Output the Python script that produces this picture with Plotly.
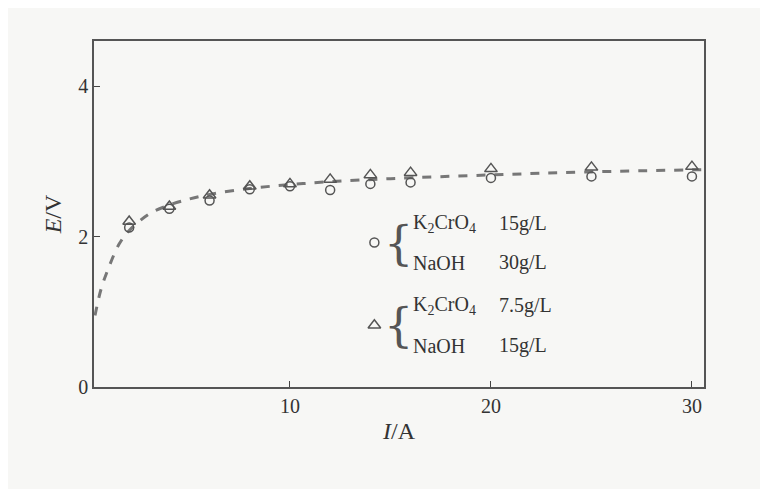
import plotly.graph_objects as go

# Measured points
current = [2, 4, 6, 8, 10, 12, 14, 16, 20, 25, 30]
e_circle = [2.12, 2.37, 2.48, 2.63, 2.67, 2.62, 2.70, 2.72, 2.78, 2.80, 2.80]
e_triangle = [2.20, 2.40, 2.55, 2.67, 2.70, 2.76, 2.82, 2.85, 2.90, 2.92, 2.93]

# Fitted dashed curve
curve_x = [0.3, 0.6, 1.0, 1.5, 2, 3, 4, 5, 6, 8, 10, 12, 15, 20, 25, 30.6]
curve_y = [0.95, 1.3, 1.6, 1.9, 2.08, 2.3, 2.42, 2.5, 2.56, 2.64, 2.69, 2.73, 2.77, 2.82, 2.86, 2.89]

ink = "#555555"
fig = go.Figure()

fig.add_trace(go.Scatter(x=curve_x, y=curve_y, mode="lines", line=dict(color="#777", width=3, dash="dash", shape="spline"), showlegend=False))
fig.add_trace(go.Scatter(x=current, y=e_circle, mode="markers", marker=dict(symbol="circle-open", size=9, color=ink, line=dict(width=1.5)), showlegend=False))
fig.add_trace(go.Scatter(x=current, y=e_triangle, mode="markers", marker=dict(symbol="triangle-up-open", size=11, color=ink, line=dict(width=1.5)), showlegend=False))

# Legend symbols and text
fig.add_trace(go.Scatter(x=[14.2], y=[1.92], mode="markers", marker=dict(symbol="circle-open", size=9, color=ink, line=dict(width=1.5)), showlegend=False))
fig.add_trace(go.Scatter(x=[14.2], y=[0.82], mode="markers", marker=dict(symbol="triangle-up-open", size=11, color=ink, line=dict(width=1.5)), showlegend=False))

font = dict(family="Liberation Serif", size=20, color="#333")
anns = []
for y0, lines in [(1.92, ["K<sub>2</sub>CrO<sub>4</sub>", "15g/L", "NaOH", "30g/L"]),
                  (0.82, ["K<sub>2</sub>CrO<sub>4</sub>", "7.5g/L", "NaOH", "15g/L"])]:
    anns.append(dict(x=15.4, y=y0, text="{", showarrow=False, font=dict(family="DejaVu Serif", size=46, color="#555"), xanchor="center"))
    anns.append(dict(x=16.0, y=y0 + 0.26, text=lines[0], showarrow=False, font=font, xanchor="left"))
    anns.append(dict(x=20.3, y=y0 + 0.26, text=lines[1], showarrow=False, font=font, xanchor="left"))
    anns.append(dict(x=16.0, y=y0 - 0.27, text=lines[2], showarrow=False, font=font, xanchor="left"))
    anns.append(dict(x=20.3, y=y0 - 0.27, text=lines[3], showarrow=False, font=font, xanchor="left"))

fig.update_layout(
    width=768, height=489,
    margin=dict(l=86, r=72, t=33, b=110),
    paper_bgcolor="#f7f7f5", plot_bgcolor="#f7f7f5",
    font=font,
    annotations=anns,
    xaxis=dict(range=[0.25, 30.6], tickvals=[10, 20, 30], ticks="inside", ticklen=6, showgrid=False, zeroline=False,
               showline=True, mirror=True, linecolor=ink, linewidth=1.5,
               title=dict(text="<i>I</i>/A", standoff=6)),
    yaxis=dict(range=[0, 4.6], tickvals=[0, 2, 4], ticks="inside", ticklen=6, showgrid=False, zeroline=False,
               showline=True, mirror=True, linecolor=ink, linewidth=1.5,
               title=dict(text="<i>E</i>/V", standoff=10)),
)

fig.write_html("out.html")
